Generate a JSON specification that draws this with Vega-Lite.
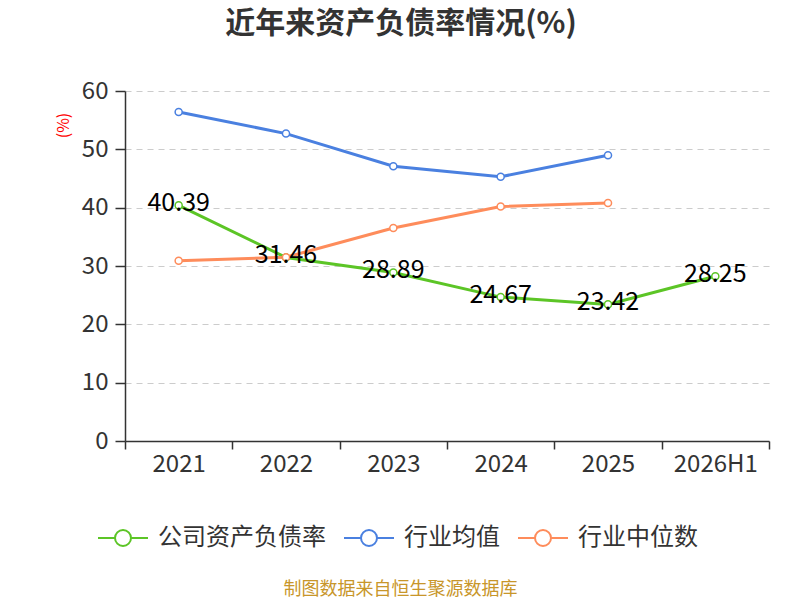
{
  "$schema": "https://vega.github.io/schema/vega-lite/v6.json",
  "width": 644,
  "height": 350,
  "autosize": {"type": "none"},
  "padding": {"left": 125, "top": 91, "right": 31, "bottom": 159},
  "background": "white",
  "config": {
    "view": {"stroke": null},
    "font": "Noto Sans CJK SC",
    "legend": {
      "symbolType": "M-1,0L-0.32,0M0.32,0L1,0M-0.32,0A0.32,0.32,0,1,1,0.32,0A0.32,0.32,0,1,1,-0.32,0",
      "symbolSize": 2500,
      "symbolStrokeWidth": 2,
      "symbolFillColor": "white"
    }
  },
  "title": {
    "text": "近年来资产负债率情况(%)",
    "fontSize": 30,
    "fontWeight": "bold",
    "color": "#333333",
    "anchor": "middle",
    "dx": -46,
    "offset": 40
  },
  "data": {
    "values": [
      {"year": "2021", "series": "公司资产负债率", "value": 40.39},
      {"year": "2022", "series": "公司资产负债率", "value": 31.46},
      {"year": "2023", "series": "公司资产负债率", "value": 28.89},
      {"year": "2024", "series": "公司资产负债率", "value": 24.67},
      {"year": "2025", "series": "公司资产负债率", "value": 23.42},
      {"year": "2026H1", "series": "公司资产负债率", "value": 28.25},
      {"year": "2021", "series": "行业均值", "value": 56.4},
      {"year": "2022", "series": "行业均值", "value": 52.7},
      {"year": "2023", "series": "行业均值", "value": 47.1},
      {"year": "2024", "series": "行业均值", "value": 45.3},
      {"year": "2025", "series": "行业均值", "value": 49.0},
      {"year": "2021", "series": "行业中位数", "value": 30.9},
      {"year": "2022", "series": "行业中位数", "value": 31.5},
      {"year": "2023", "series": "行业中位数", "value": 36.5},
      {"year": "2024", "series": "行业中位数", "value": 40.2},
      {"year": "2025", "series": "行业中位数", "value": 40.8}
    ]
  },
  "encoding": {
    "x": {
      "field": "year",
      "type": "ordinal",
      "sort": ["2021", "2022", "2023", "2024", "2025", "2026H1"],
      "bandPosition": 0.5,
      "scale": {"type": "band", "paddingInner": 0, "paddingOuter": 0},
      "axis": {
        "title": "制图数据来自恒生聚源数据库",
        "titleColor": "#c8962a",
        "titleFontSize": 18,
        "titleFontWeight": "normal",
        "titleX": 275,
        "titleY": 148,
        "titleBaseline": "middle",
        "titleAlign": "center",
        "tickBand": "extent",
        "labelAngle": 0,
        "labelFontSize": 24,
        "labelColor": "#333333",
        "labelPadding": 3,
        "domainColor": "#333333",
        "domainWidth": 1.5,
        "tickColor": "#333333",
        "tickWidth": 1.5,
        "tickSize": 8,
        "grid": false
      }
    },
    "y": {
      "field": "value",
      "type": "quantitative",
      "scale": {"domain": [0, 60], "nice": false},
      "axis": {
        "title": "(%)",
        "titleColor": "#ff0000",
        "titleFontSize": 16,
        "titleFontWeight": "normal",
        "titleX": -62,
        "titleY": 34,
        "titleAngle": -90,
        "titleAlign": "center",
        "titleBaseline": "middle",
        "values": [0, 10, 20, 30, 40, 50, 60],
        "labelFontSize": 24,
        "labelColor": "#333333",
        "labelPadding": 7,
        "domainColor": "#333333",
        "domainWidth": 1.5,
        "tickColor": "#333333",
        "tickWidth": 1.5,
        "tickSize": 10,
        "grid": true,
        "gridColor": "#cccccc",
        "gridDash": [6, 5],
        "gridWidth": 1.2
      }
    },
    "color": {
      "field": "series",
      "type": "nominal",
      "scale": {
        "domain": ["公司资产负债率", "行业均值", "行业中位数"],
        "range": ["#5cc526", "#4a80e0", "#fe8c5b"]
      },
      "legend": {
        "orient": "none",
        "direction": "horizontal",
        "legendX": -28,
        "legendY": 421,
        "title": null,
        "labelFontSize": 24,
        "labelLimit": 400,
        "labelColor": "#333333",
        "columnPadding": 14,
        "labelOffset": 9
      }
    }
  },
  "layer": [
    {"mark": {"type": "line", "strokeWidth": 3}},
    {
      "mark": {"type": "point", "filled": false, "fill": "white", "fillOpacity": 1, "size": 50, "strokeWidth": 1.5, "opacity": 1},
      "encoding": {
        "stroke": {"field": "series", "type": "nominal", "scale": {"domain": ["公司资产负债率", "行业均值", "行业中位数"], "range": ["#5cc526", "#4a80e0", "#fe8c5b"]}, "legend": null}
      }
    },
    {
      "transform": [{"filter": "datum.series === '公司资产负债率'"}],
      "mark": {"type": "text", "fontSize": 25, "baseline": "middle", "align": "center", "dy": -2, "color": "#000000"},
      "encoding": {
        "text": {"field": "value", "type": "quantitative", "format": ".2f"},
        "color": {"value": "#000000"}
      }
    }
  ]
}
